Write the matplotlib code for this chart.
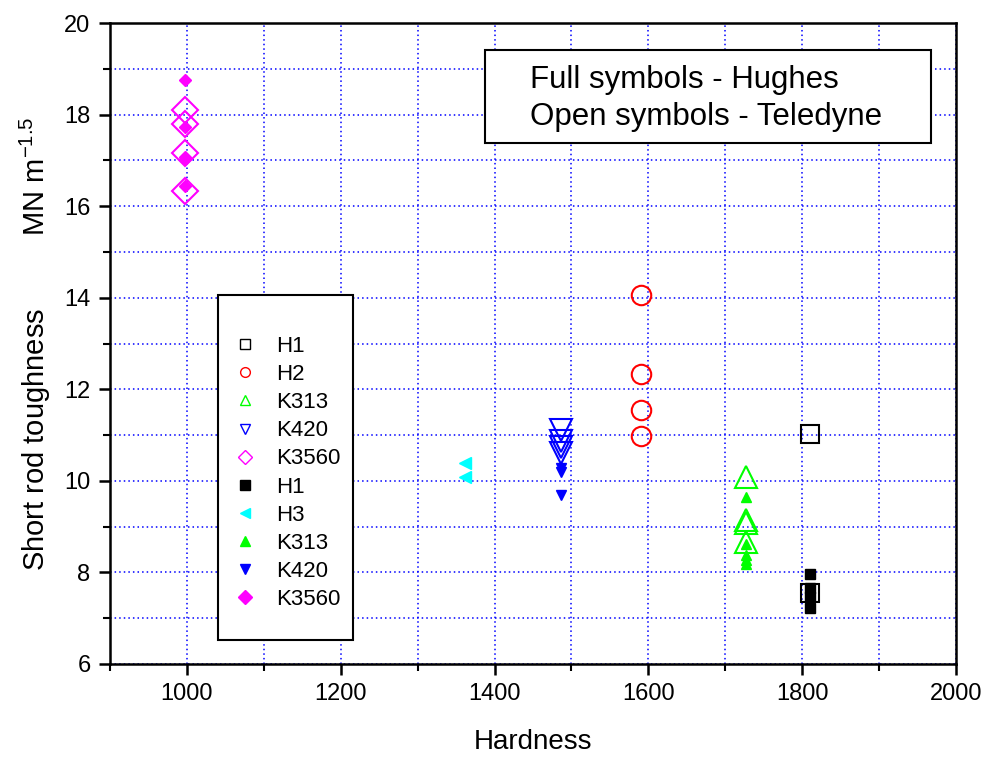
import matplotlib
matplotlib.use("Agg")
import matplotlib.pyplot as plt
from matplotlib.lines import Line2D
from matplotlib.patches import Rectangle
from matplotlib.ticker import MultipleLocator

plt.rcParams['font.family'] = ['Liberation Sans', 'DejaVu Sans']
plt.rcParams['mathtext.fontset'] = 'custom'
plt.rcParams['mathtext.rm'] = 'Liberation Sans'
plt.rcParams['mathtext.it'] = 'Liberation Sans:italic'
plt.rcParams['mathtext.bf'] = 'Liberation Sans:bold'

# ---- data: Teledyne (open symbols) ----
h1_open_x = [1810, 1810]
h1_open_y = [11.02, 7.55]
h2_open_x = [1591, 1591, 1591, 1591]
h2_open_y = [14.07, 12.33, 11.55, 10.97]
k313_open_x = [1727, 1727, 1727, 1727]
k313_open_y = [10.08, 9.14, 9.08, 8.66]
k420_open_x = [1487, 1487, 1487, 1487]
k420_open_y = [11.10, 10.88, 10.74, 10.60]
k3560_open_x = [997, 997, 997, 997]
k3560_open_y = [18.10, 17.80, 17.17, 16.32]

# ---- data: Hughes (full symbols) ----
h1_full_x = [1810, 1810, 1810, 1810]
h1_full_y = [7.97, 7.65, 7.47, 7.22]
h3_full_x = [1362, 1362]
h3_full_y = [10.40, 10.08]
k313_full_x = [1727, 1727, 1727, 1727, 1727]
k313_full_y = [9.65, 8.63, 8.38, 8.27, 8.18]
k420_full_x = [1487, 1487, 1487]
k420_full_y = [10.28, 10.19, 9.69]
k3560_full_x = [997, 997, 997, 997, 997]
k3560_full_y = [18.75, 17.72, 17.07, 17.02, 16.44]

legend_labels = ['H1', 'H2', 'K313', 'K420', 'K3560', 'H1', 'H3', 'K313', 'K420', 'K3560']
note_lines = ['Full symbols - Hughes', 'Open symbols - Teledyne']

fig = plt.figure(figsize=(9.89, 7.58), dpi=100)
ax = fig.add_axes([110/989, 1-664/758, 846/989, 641/758])

open_series = [
    (h1_open_x, h1_open_y, 's', 'black', 13),
    (h2_open_x, h2_open_y, 'o', 'red', 14),
    (k313_open_x, k313_open_y, '^', '#00FF00', 16),
    (k420_open_x, k420_open_y, 'v', 'blue', 16),
    (k3560_open_x, k3560_open_y, 'D', '#FF00FF', 13.5),
]
full_series = [
    (h1_full_x, h1_full_y, 's', 'black', 6.5),
    (h3_full_x, h3_full_y, '<', '#00FFFF', 9),
    (k313_full_x, k313_full_y, '^', '#00FF00', 7),
    (k420_full_x, k420_full_y, 'v', 'blue', 7),
    (k3560_full_x, k3560_full_y, 'D', '#FF00FF', 6),
]
for x, y, m, c, ms in open_series:
    ax.plot(x, y, linestyle='none', marker=m, ms=ms, mfc='none', mec=c, mew=1.5, zorder=3)
for x, y, m, c, ms in full_series:
    ax.plot(x, y, linestyle='none', marker=m, ms=ms, mfc=c, mec=c, mew=1, zorder=4)

ax.set_xlim(900, 2000)
ax.set_ylim(6, 20)
ax.xaxis.set_major_locator(MultipleLocator(200))
ax.xaxis.set_minor_locator(MultipleLocator(100))
ax.yaxis.set_major_locator(MultipleLocator(2))
ax.yaxis.set_minor_locator(MultipleLocator(1))
ax.grid(True, which='both', color='blue', linestyle=(0, (1, 2)), linewidth=1.1)
ax.set_axisbelow(True)
ax.tick_params(axis='both', which='major', direction='out', length=8, width=1.8, pad=6,
               labelsize=17)
ax.tick_params(axis='both', which='minor', direction='out', length=5, width=1.5)
for s in ax.spines.values():
    s.set_linewidth(1.8)

ax.set_xlabel('Hardness', fontsize=20, labelpad=17)
ax.set_ylabel('Short rod toughness         MN m$^{\\mathregular{-1.5}}$', fontsize=21, labelpad=8)

# legend
handles = []
for x, y, m, c, ms in open_series:
    handles.append(Line2D([], [], linestyle='none', marker=m, ms=7, mfc='none', mec=c, mew=1))
for x, y, m, c, ms in full_series:
    handles.append(Line2D([], [], linestyle='none', marker=m, ms=7, mfc=c, mec=c, mew=1))

ax.add_patch(Rectangle((0.1277, 0.0374), 0.1595, 0.5383, transform=ax.transAxes,
                       facecolor='white', edgecolor='black', linewidth=1.5, zorder=5))
leg = ax.legend(handles, legend_labels, loc='upper left',
                bbox_to_anchor=((234-110)/846, (664-336)/641), borderaxespad=0,
                borderpad=0, frameon=False, fontsize=16, handlelength=1.0,
                handletextpad=0.9, labelspacing=0.32)
leg.set_zorder(6)

# note box
ax.add_patch(Rectangle((0.443, 0.813), 0.527, 0.145, transform=ax.transAxes,
                       facecolor='white', edgecolor='black', linewidth=1.5, zorder=5))
ax.text((530-110)/846, (664-80)/641, note_lines[0], transform=ax.transAxes,
        fontsize=22.5, va='center', ha='left', zorder=6)
ax.text((530-110)/846, (664-117)/641, note_lines[1], transform=ax.transAxes,
        fontsize=22.5, va='center', ha='left', zorder=6)

fig.savefig('out.png', dpi=100)
